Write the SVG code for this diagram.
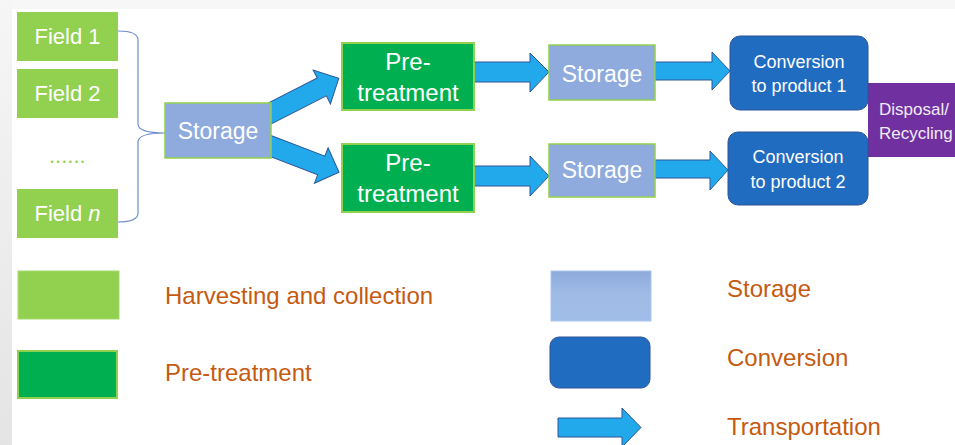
<svg xmlns="http://www.w3.org/2000/svg" width="955" height="445" viewBox="0 0 955 445">
  <defs>
    <linearGradient id="leftEdge" x1="0" y1="0" x2="0" y2="1">
      <stop offset="0" stop-color="#f6f6f6"/>
      <stop offset="1" stop-color="#e4e4e4"/>
    </linearGradient>
    <linearGradient id="storageLegend" x1="0" y1="0" x2="0" y2="1">
      <stop offset="0" stop-color="#8eaadb"/>
      <stop offset="0.5" stop-color="#a0bce6"/>
      <stop offset="1" stop-color="#9fbde8"/>
    </linearGradient>
    <style>
      text { font-family: "Liberation Sans", Arial, sans-serif; }
      .field { fill: #92d050; }
      .pre { fill: #00b050; stroke: #92d050; stroke-width: 2; }
      .store { fill: #8faadc; stroke: #92d050; stroke-width: 1.5; }
      .conv { fill: #1f6cc0; stroke: #2f5597; stroke-width: 1; }
      .disp { fill: #7030a0; }
      .arrow { fill: #21a9ec; stroke: #2f5597; stroke-width: 1; stroke-linejoin: miter; }
      .lbl { fill: #ffffff; text-anchor: middle; }
      .legend { fill: #c55a11; font-size: 24px; }
      .brace { fill: none; stroke: #6f8fd0; stroke-width: 1.2; }
    </style>
  </defs>

  <!-- page background -->
  <rect x="0" y="0" width="955" height="445" fill="#f7f7f7"/>
  <rect x="0" y="0" width="12" height="445" fill="url(#leftEdge)"/>
  <rect x="12" y="9" width="943" height="436" fill="#ffffff"/>

  <!-- connectors -->
  <g id="connectors">
    <path class="brace" d="M118,31 Q138,31 138,40 L138,124 Q138,133 165,133 Q138,133 138,142 L138,213 Q138,222 118,222"/>
    <!-- storage to pre-treatment (diagonal) -->
    <polygon class="arrow" transform="translate(255,121) rotate(-27)" points="0,-10 75,-10 75,-19 94,0 75,19 75,10 0,10"/>
    <polygon class="arrow" transform="translate(255,140) rotate(21)" points="0,-10 71,-10 71,-19 90,0 71,19 71,10 0,10"/>
    <!-- pre-treatment to storage -->
    <polygon class="arrow" points="474,62 530,62 530,53 549,72 530,92 530,82 474,82"/>
    <polygon class="arrow" points="474,166 530,166 530,156 549,176 530,196 530,186 474,186"/>
    <!-- storage to conversion -->
    <polygon class="arrow" points="655,62 712,62 712,52 730,71 712,90 712,80 655,80"/>
    <polygon class="arrow" points="655,160 710,160 710,151 728,170 710,190 710,178 655,178"/>
  </g>

  <!-- fields -->
  <g id="field-1">
    <rect class="field" x="17" y="12" width="101" height="49"/>
    <text class="lbl" x="67.5" y="44" font-size="22">Field 1</text>
  </g>
  <g id="field-2">
    <rect class="field" x="17" y="69" width="101" height="49"/>
    <text class="lbl" x="67.5" y="101" font-size="22">Field 2</text>
  </g>
  <g id="field-dots">
    <text x="49" y="163" font-size="22" fill="#92d050">......</text>
  </g>
  <g id="field-n">
    <rect class="field" x="17" y="189" width="101" height="49"/>
    <text class="lbl" x="67.5" y="221" font-size="22">Field <tspan font-style="italic">n</tspan></text>
  </g>

  <!-- first storage -->
  <g id="storage-0">
    <rect class="store" x="165" y="103" width="106" height="55"/>
    <text class="lbl" x="218" y="139" font-size="23">Storage</text>
  </g>

  <!-- pre-treatment -->
  <g id="pretreat-1">
    <rect class="pre" x="342" y="43" width="132" height="67"/>
    <text class="lbl" x="408" y="70" font-size="24">Pre-</text>
    <text class="lbl" x="408" y="101" font-size="24">treatment</text>
  </g>
  <g id="pretreat-2">
    <rect class="pre" x="342" y="144" width="132" height="68"/>
    <text class="lbl" x="408" y="171" font-size="24">Pre-</text>
    <text class="lbl" x="408" y="202" font-size="24">treatment</text>
  </g>

  <!-- second storage -->
  <g id="storage-1">
    <rect class="store" x="549" y="45" width="106" height="55"/>
    <text class="lbl" x="602" y="82" font-size="23">Storage</text>
  </g>
  <g id="storage-2">
    <rect class="store" x="549" y="144" width="106" height="53"/>
    <text class="lbl" x="602" y="178" font-size="23">Storage</text>
  </g>

  <!-- disposal -->
  <g id="disposal">
    <rect class="disp" x="868" y="83" width="95" height="74"/>
    <text x="879" y="115" font-size="17" fill="#f2ecf7">Disposal/</text>
    <text x="879" y="139" font-size="17" fill="#f2ecf7">Recycling</text>
  </g>

  <!-- conversion -->
  <g id="conversion-1">
    <rect class="conv" x="730" y="36" width="138" height="74" rx="10"/>
    <text class="lbl" x="799" y="68" font-size="18">Conversion</text>
    <text class="lbl" x="799" y="92" font-size="18">to product 1</text>
  </g>
  <g id="conversion-2">
    <rect class="conv" x="728" y="132" width="140" height="73" rx="10"/>
    <text class="lbl" x="798" y="163" font-size="18">Conversion</text>
    <text class="lbl" x="798" y="188" font-size="18">to product 2</text>
  </g>

  <!-- legend -->
  <g id="legend-harvest">
    <rect x="18" y="271" width="101" height="48" fill="#92d050" stroke="#a6d96f" stroke-width="1"/>
    <text class="legend" x="165" y="304">Harvesting and collection</text>
  </g>
  <g id="legend-pretreat">
    <rect class="pre" x="18" y="351" width="99" height="47"/>
    <text class="legend" x="165" y="381">Pre-treatment</text>
  </g>
  <g id="legend-storage">
    <rect x="551" y="271" width="100" height="50" fill="url(#storageLegend)" stroke="#aac6ec" stroke-width="1"/>
    <text class="legend" x="727" y="297">Storage</text>
  </g>
  <g id="legend-conversion">
    <rect class="conv" x="550" y="337" width="100" height="51" rx="9"/>
    <text class="legend" x="727" y="366">Conversion</text>
  </g>
  <g id="legend-transport">
    <polygon class="arrow" points="558,418 622,418 622,408 641,427.5 622,447 622,437 558,437"/>
    <text class="legend" x="727" y="435">Transportation</text>
  </g>
</svg>
